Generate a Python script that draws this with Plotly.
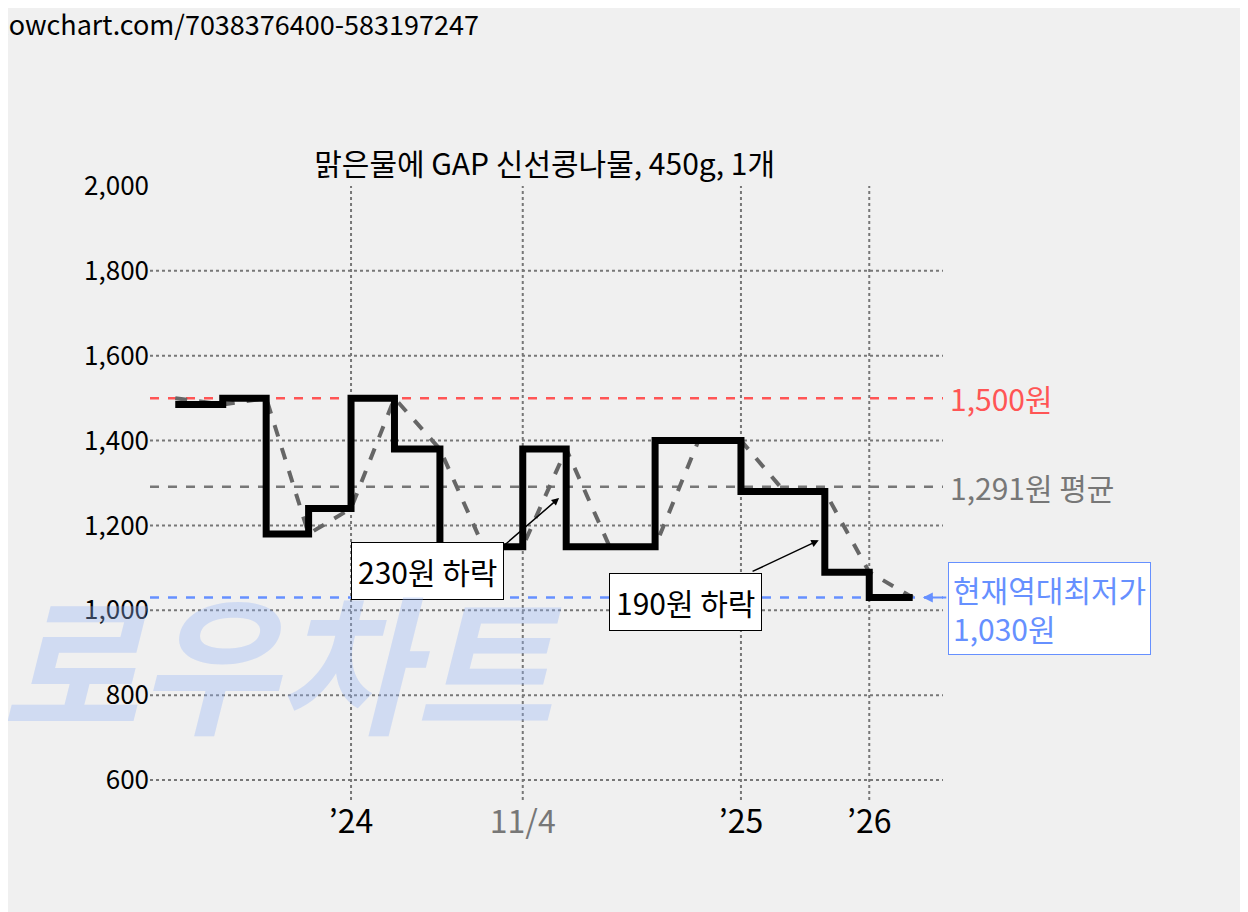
import plotly.graph_objects as go

FONT = "Noto Sans CJK KR"

# x positions are on an index scale (0 = left edge of plot)
step_x = [25, 72, 72, 115, 115, 157, 157, 199, 199, 242, 242, 287, 287, 369, 369, 412,
          412, 500, 500, 585, 585, 668, 668, 712, 712, 755]
step_y = [1485, 1485, 1500, 1500, 1180, 1180, 1240, 1240, 1500, 1500, 1380, 1380, 1150, 1150, 1380, 1380,
          1150, 1150, 1400, 1400, 1280, 1280, 1090, 1090, 1030, 1030]

avg_x = [25, 72, 115, 157, 199, 242, 287, 330, 369, 412, 455, 500, 543, 585, 628, 668, 712, 755]
avg_y = [1500, 1485, 1500, 1180, 1240, 1500, 1380, 1150, 1150, 1380, 1150, 1150, 1400, 1400, 1280, 1280, 1090, 1030]

tick_x = [199, 369, 585, 712]
tick_text = ["’24", "<span style='color:#777'>11/4</span>", "’25", "’26"]
y_ticks = [600, 800, 1000, 1200, 1400, 1600, 1800, 2000]

max_price = 1500
avg_price = 1291
min_price = 1030

fig = go.Figure()
fig.add_trace(go.Scatter(x=avg_x, y=avg_y, mode="lines",
                         line=dict(color="#666", width=4, dash="dash"), hoverinfo="skip"))
fig.add_trace(go.Scatter(x=step_x, y=step_y, mode="lines",
                         line=dict(color="black", width=7), hoverinfo="skip"))

for val, col in [(max_price, "#ff5555"), (avg_price, "#777"), (min_price, "#6690ff")]:
    fig.add_shape(type="line", xref="x", yref="y", x0=0, x1=785, y0=val, y1=val,
                  line=dict(color=col, width=2.5, dash="dash"), layer="below")
for v in y_ticks[:-1]:
    fig.add_shape(type="line", xref="x", yref="y", x0=0, x1=785, y0=v, y1=v,
                  line=dict(color="#777", width=2, dash="dot"), layer="below")
for t in tick_x:
    fig.add_shape(type="line", xref="x", yref="paper", x0=t, x1=t, y0=0, y1=1,
                  line=dict(color="#777", width=2, dash="dot"), layer="below")

ann = []
ann.append(dict(xref="paper", x=1.006, y=max_price, text="1,500원", showarrow=False, xanchor="left",
                font=dict(size=30, color="#ff5555")))
ann.append(dict(xref="paper", x=1.006, y=avg_price, text="1,291원 평균", showarrow=False, xanchor="left",
                font=dict(size=30, color="#777")))
ann.append(dict(x=765, y=min_price, ax=25, ay=0,
                text="", showarrow=True, arrowhead=2, arrowcolor="#6690ff", arrowwidth=2))
ann.append(dict(xref="paper", x=1.006, y=1005, text="현재역대최저가<br>1,030원", showarrow=False,
                xanchor="left", align="left", font=dict(size=30, color="#6690ff"), bgcolor="white",
                bordercolor="#6690ff", borderwidth=1, borderpad=4))
ann.append(dict(x=405, y=1265, ax=320, ay=1090, axref="x", ayref="y", text="",
                showarrow=True, arrowhead=2, arrowwidth=1.5, arrowcolor="black"))
ann.append(dict(x=275, y=1093, text="230원 하락", showarrow=False, font=dict(size=30, color="black"),
                bgcolor="white", bordercolor="black", borderwidth=1, borderpad=6))
ann.append(dict(x=662, y=1165, ax=595, ay=1090, axref="x", ayref="y", text="",
                showarrow=True, arrowhead=2, arrowwidth=1.5, arrowcolor="black"))
ann.append(dict(x=530, y=1020, text="190원 하락", showarrow=False, font=dict(size=30, color="black"),
                bgcolor="white", bordercolor="black", borderwidth=1, borderpad=6))
ann.append(dict(xref="paper", x=-0.19, y=890, text="<b><i>로우차트</i></b>", showarrow=False,
                xanchor="left", font=dict(size=150, color="rgba(150,180,245,0.35)")))
ann.append(dict(xref="paper", yref="paper", x=-0.19, y=1.30, text="lowchart.com/7038376400-583197247",
                showarrow=False, xanchor="left", font=dict(size=27, color="black")))

fig.update_layout(
    width=1248, height=912,
    margin=dict(l=142, r=313, t=178, b=120),
    paper_bgcolor="#f0f0f0", plot_bgcolor="#f0f0f0",
    showlegend=False,
    font=dict(family=FONT, size=26, color="black"),
    title=dict(text="맑은물에 GAP 신선콩나물, 450g, 1개", x=0.43, y=0.84, xanchor="center",
               font=dict(size=30)),
    xaxis=dict(range=[0, 785], tickvals=tick_x, ticktext=tick_text, showgrid=False,
               zeroline=False, tickfont=dict(size=32), ticks=""),
    yaxis=dict(range=[553, 2000], tickvals=y_ticks, tickformat=",", showgrid=False,
               zeroline=False, ticks=""),
    annotations=ann,
)

fig.write_html("out.html")
